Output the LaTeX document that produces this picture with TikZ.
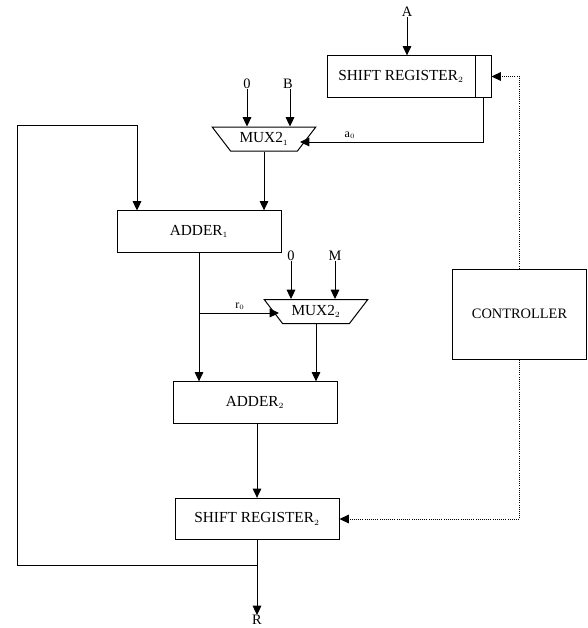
\documentclass[tikz,border=0pt]{standalone}
\usepackage{fontspec}
\setmainfont{Liberation Serif}
\usetikzlibrary{arrows.meta, positioning, calc, shapes.geometric}
\tikzset{
  bx/.style={draw, fill=white, minimum width=#1, minimum height=31pt, inner sep=0pt,
             font=\fontsize{11.5}{12}\selectfont, line width=0.75pt},
  mx/.style={draw, fill=white, trapezium, shape border rotate=180, trapezium stretches=true,
             trapezium angle=43, minimum width=78pt, minimum height=18pt, inner sep=0pt,
             font=\fontsize{11.5}{12}\selectfont, line width=0.75pt},
  lbl/.style={inner sep=0pt, font=\fontsize{10.8}{12}\selectfont},
  arr/.style={-{Triangle[length=7pt, width=6.5pt]}, line width=0.75pt},
  ctl/.style={-{Triangle[length=7pt, width=6.5pt]}, densely dotted, line width=0.6pt},
}
\begin{document}
\begin{tikzpicture}[x=0.75pt, y=-0.75pt]
    \useasboundingbox (0,0) rectangle (588,628);
    \node[bx=111pt] (sra)  at (401, 76.5) {SHIFT REGISTER$_{\scriptscriptstyle 2}$};
    \node[bx=12pt]  (cell) at (483, 76.5) {};
    \node[mx] (muxa) at (264, 139) {MUX2$_{\scriptscriptstyle 1}$};
    \node[bx=123pt] (adda) at (199, 231.5) {ADDER$_{\scriptscriptstyle 1}$};
    \node[mx] (muxb) at (316, 311.5) {MUX2$_{\scriptscriptstyle 2}$};
    \node[bx=123pt] (addb) at (255, 402.5) {ADDER$_{\scriptscriptstyle 2}$};
    \node[bx=123pt] (srb)  at (257, 519) {SHIFT REGISTER$_{\scriptscriptstyle 2}$};
    \node[bx=101pt, minimum height=67.5pt, font=\fontsize{10.8}{12}\selectfont] (ctrl) at (519.5, 314) {CONTROLLER};

    \node[lbl] (A)  at (407, 12)  {A};
    \node[lbl] (z1) at (247, 84)  {0};
    \node[lbl] (B)  at (288, 84)  {B};
    \node[lbl] (z2) at (291, 256) {0};
    \node[lbl] (M)  at (335, 256) {M};
    \node[lbl] (R)  at (257, 620) {R};
    \node[lbl, font=\fontsize{9}{10}\selectfont] (a0) at (350, 135) {a$_{\scriptscriptstyle 0}$};
    \node[lbl, font=\fontsize{9}{10}\selectfont] (r0) at (240, 306) {r$_{\scriptscriptstyle 0}$};

    \coordinate (loop) at (257, 565);
    \coordinate (rzero) at (199, 313);

    \draw[arr] (A)  -- (A |- sra.north);
    \draw[arr] (z1) -- (z1 |- muxa.north);
    \draw[arr] ([xshift=1.5pt]B.south) -- ([xshift=1.5pt]B.south |- muxa.north);
    \draw[arr] (z2) -- (z2 |- muxb.north);
    \draw[arr] (M)  -- (M |- muxb.north);
    \draw[arr] (cell.south) |- (300, 142);
    \draw[arr] (muxa.south) -- (muxa.south |- adda.north);
    \draw[arr] (loop) -| (17, 125) -| (137, 210.5);
    \draw[arr] (adda.south) -- (adda.south |- addb.north);
    \draw[arr] (rzero) -- (279, 313);
    \draw[arr] (muxb.south) -- (muxb.south |- addb.north);
    \draw[arr] (addb.south -| srb.north) -- (srb.north);
    \draw[arr] (srb.south) -- (R);
    \draw[ctl] (ctrl.north) |- (cell.east);
    \draw[ctl] (ctrl.south) |- (srb.east);
\end{tikzpicture}
\end{document}
